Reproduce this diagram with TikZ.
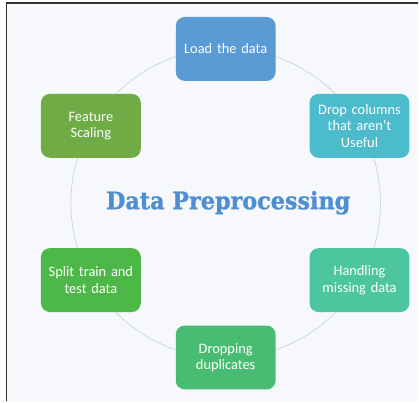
\documentclass[tikz,border=0pt]{standalone}
\usepackage{fontspec}
\setmainfont{Carlito}
\newfontfamily\titlefont[FakeBold=1.2]{DejaVu Serif Bold}
\definecolor{bgpaper}{HTML}{F6F8FB}
\definecolor{ringline}{HTML}{C3D3CF}
\definecolor{cLoad}{HTML}{5B9BD5}
\definecolor{cDrop}{HTML}{4CBBCB}
\definecolor{cMiss}{HTML}{4DC59E}
\definecolor{cDup}{HTML}{48BD72}
\definecolor{cSplit}{HTML}{4DB848}
\definecolor{cScale}{HTML}{6FAC46}
\definecolor{titleblue}{HTML}{4F8ED3}
\tikzset{
  stepbox/.style={rectangle, rounded corners=9pt, minimum width=100pt, minimum height=64pt,
    text width=96pt, align=center, text=white, font=\fontsize{14.4}{16.3}\selectfont, inner sep=0pt},
}
\begin{document}
\begin{tikzpicture}[x=1pt,y=-1pt]
  % page and frame
  \fill[white] (0,0) rectangle (419,402);
  \fill[bgpaper] (6.5,3) rectangle (419,402);
  \draw[black!80, line width=1.2pt] (6.5,402) -- (6.5,3) -- (419,3);
  \useasboundingbox (0,0) rectangle (419,402);

  % ring behind the steps
  \coordinate (hub) at (226,203.5);
  \draw[ringline, line width=0.6pt] (hub) circle[radius=155pt];

  % steps of the cycle
  \node[stepbox, fill=cLoad]  (load)  at (226,49)  {Load the data};
  \node[stepbox, fill=cDrop]  (drop)  at (360,126) {Drop columns\\that aren’t\\Useful};
  \node[stepbox, fill=cMiss]  (miss)  at (360,280.5) {Handling\\missing data};
  \node[stepbox, fill=cDup]   (dup)   at (226,358) {Dropping\\duplicates};
  \node[stepbox, fill=cSplit] (split) at (91,280.5) {Split train and\\test data};
  \node[stepbox, fill=cScale] (scale) at (91,126)  {Feature\\Scaling};

  % heading in the middle
  \node[text=titleblue, inner sep=0pt] (title) at (228.5,203)
    {\scalebox{0.93}[1]{\titlefont\fontsize{24}{26}\selectfont Data Preprocessing}};
\end{tikzpicture}
\end{document}
